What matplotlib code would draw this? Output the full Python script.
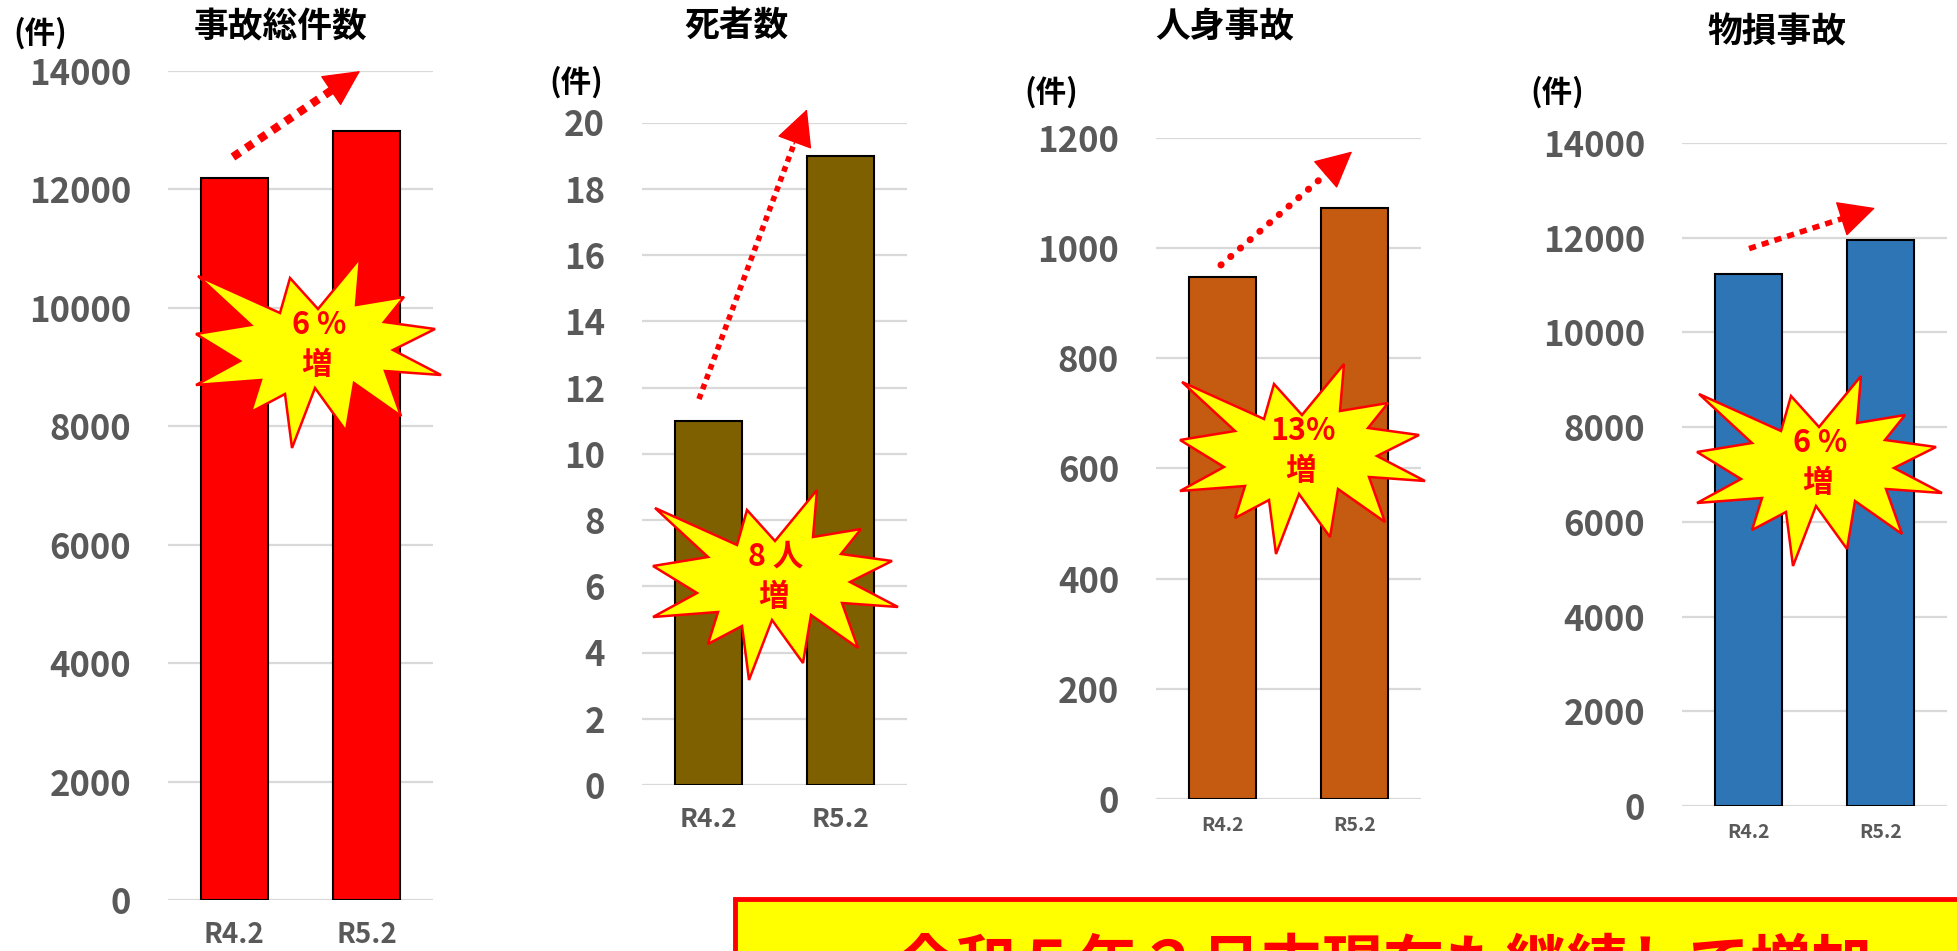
import numpy as np
import matplotlib
matplotlib.use('Agg')
import matplotlib.pyplot as plt
from matplotlib.patches import Polygon, Rectangle

plt.rcParams['font.family'] = ['Noto Sans CJK JP', 'DejaVu Sans']
plt.rcParams['font.weight'] = 'bold'

# data
periods = ['R4.2', 'R5.2']
total = [12200, 12980]
deaths = [11, 19]
injury = [948, 1073]
damage = [11240, 11950]

titles = ['事故総件数', '死者数', '人身事故', '物損事故']
colors = ['#FF0000', '#7F6000', '#C55A11', '#2E75B6']
ymax = [14000, 20, 1200, 14000]
ystep = [2000, 2, 200, 2000]
banner = '令和５年２月末現在も継続して増加'

W, H, DPI = 1957, 951, 100


def fx(x):
    return x / W


def fy(y):
    return 1 - y / H


fig = plt.figure(figsize=(W / DPI, H / DPI), dpi=DPI)

# axes boxes in pixels: left, top, right, bottom
boxes = [(168, 71, 433, 900), (642, 122.5, 907, 785),
         (1156, 137.7, 1421, 799), (1682, 143, 1947, 806)]
title_pos = [(281, 27), (736, 25), (1225, 26), (1777, 32)]
unit_pos = [(40, 33), (576, 82), (1051, 92), (1557, 92)]
xlab_size = [20, 19, 14, 14]
xlab_pad = [15, 15, 12, 12]
star_pos = [(319, 353), (776, 585), (1303, 459), (1820, 471)]

# dotted trend arrows: start, end (data coords), line width, dash pattern, cap
arrows = [((-0.01, 12548), (0.95, 14000), 6.0, (0, (1, 0.9)), 'butt'),
          ((-0.07, 11.65), (0.745, 20.4), 4.0, (0, (1, 0.9)), 'butt'),
          ((-0.01, 969), (0.98, 1175), 5.0, (0, (0.05, 1.8)), 'round'),
          ((0.006, 11770), (0.957, 12627), 4.0, (0, (1.3, 1.1)), 'butt')]

series = [total, deaths, injury, damage]

# starburst outline, pixel offsets from its centre
star = [(-121, -77), (-68, -28), (-123, -19), (-79, 8), (-123, 32), (-58, 27),
        (-68, 59), (-34, 41), (-27, 95), (-4, 35), (27, 78), (35, 30),
        (82, 63), (66, 18), (122, 22), (74, -3), (116, -24), (65, -31),
        (85, -56), (37, -48), (41, -95), (-1, -44), (-29, -75), (-39, -40)]

for i, vals in enumerate(series):
    l, t, r, b = boxes[i]
    ax = fig.add_axes([fx(l), fy(b), (r - l) / W, (b - t) / H])
    ax.bar(range(len(periods)), vals, width=0.506, color=colors[i],
           edgecolor='black', linewidth=1.5, zorder=3)
    ax.set_xlim(-0.5, 1.5)
    ax.set_ylim(0, ymax[i])
    ax.set_yticks(np.arange(0, ymax[i] + 1, ystep[i]))
    ax.yaxis.grid(True, color='#D9D9D9', linewidth=1.6)
    ax.set_axisbelow(True)
    for s in ax.spines.values():
        s.set_visible(False)
    ax.set_xticks(range(len(periods)), periods)
    ax.tick_params(axis='y', length=0, pad=26.6, labelsize=25, labelcolor='#595959')
    ax.tick_params(axis='x', length=0, pad=xlab_pad[i], labelsize=xlab_size[i],
                   labelcolor='#595959')

    # dotted shaft, then a solid head at the end
    (x0, y0), (x1, y1), lw, ls, cap = arrows[i]
    xs = x1 - 0.12 * (x1 - x0)
    ys = y1 - 0.12 * (y1 - y0)
    ax.plot([x0, xs], [y0, ys], color='red', lw=lw, linestyle=ls,
            dash_capstyle=cap, clip_on=False, zorder=4)
    ax.annotate('', xy=(x1, y1), xytext=(xs, ys), annotation_clip=False,
                arrowprops=dict(arrowstyle='-|>,head_length=1.0,head_width=0.5',
                                color='red', lw=1, shrinkA=0, shrinkB=0,
                                mutation_scale=24))

    tx, ty = title_pos[i]
    fig.text(fx(tx), fy(ty), titles[i], ha='center', va='center',
             fontsize=25, color='black')
    ux, uy = unit_pos[i]
    fig.text(fx(ux), fy(uy), '(件)', ha='center', va='center',
             fontsize=22, color='black')

    # starburst with the change
    cx, cy = star_pos[i]
    pts = [(fx(cx + dx), fy(cy + dy)) for dx, dy in star]
    fig.add_artist(Polygon(pts, closed=True, facecolor='#FFFF00',
                           edgecolor='#FF0000', linewidth=1.8,
                           transform=fig.transFigure, zorder=4))
    if i == 1:
        top = f'{vals[1] - vals[0]} 人'
    else:
        pct = round((vals[1] - vals[0]) / vals[0] * 100)
        top = f'{pct} %' if pct < 10 else f'{pct}%'
    fig.text(fx(cx), fy(cy - 28), top, ha='center', va='center',
             fontsize=22, color='#FF0000', zorder=5)
    fig.text(fx(cx - 2), fy(cy + 12), '増', ha='center', va='center',
             fontsize=22, color='#FF0000', zorder=5)

# summary banner along the bottom
fig.add_artist(Rectangle((fx(735), -0.2), 1, 0.2 + fy(899), facecolor='#FFFF00',
                         edgecolor='#FF0000', linewidth=3.5,
                         transform=fig.transFigure, zorder=4))
fig.text(fx(1384), fy(968), banner, ha='center', va='center',
         fontsize=44, color='#FF0000', zorder=5)

fig.savefig('out.png', dpi=DPI)
